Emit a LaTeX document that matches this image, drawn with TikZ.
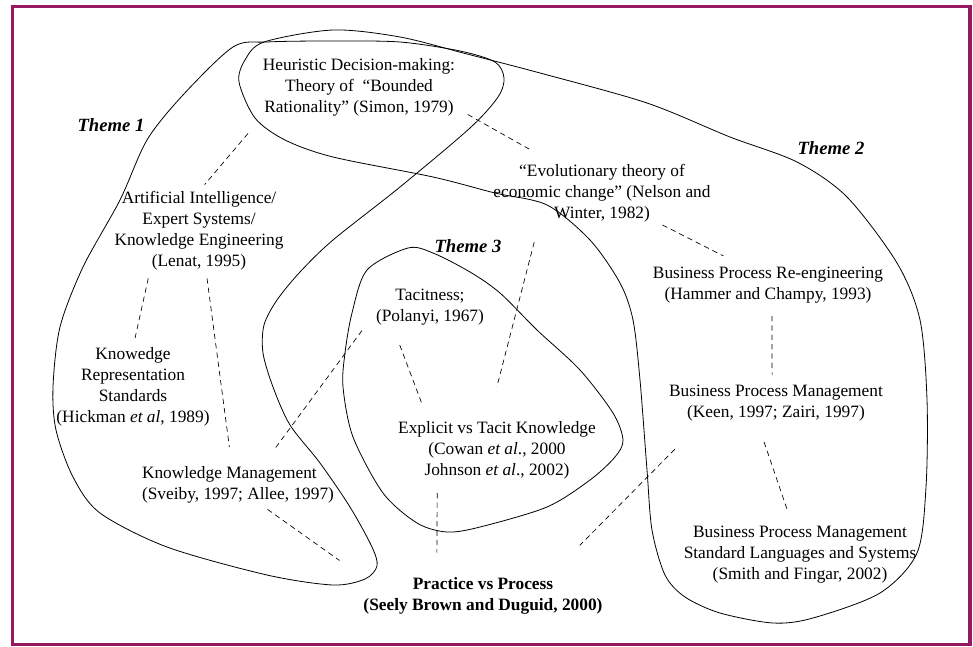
\documentclass[tikz,border=0pt]{standalone}
\usepackage{fontspec}
\setmainfont{Liberation Serif}
\definecolor{framecol}{RGB}{150,25,95}
\tikzset{idea node/.style={align=center, inner sep=0pt, font=\fontsize{13}{15.75}\selectfont},
  theme label/.style={inner sep=0pt, font=\fontsize{14}{16}\selectfont\bfseries\itshape},
  link/.style={draw, line width=0.5pt, dash pattern=on 4pt off 3pt},
  theme line/.style={draw, line width=0.6pt},}

\begin{document}
\begin{tikzpicture}[x=0.75pt, y=-0.75pt]
        \useasboundingbox (0,0) rectangle (973,646);
        \draw[framecol, line width=2.3pt] (12.5,6.5) rectangle (970,644.5);
        % Themes
        \path[theme line] plot[smooth cycle] coordinates {(233,47) (267,42) (330,41) (400,42) (460,51) (495,62) (504,78) (498,97) (470,128) (400,187) (333,240) (300,272) (277,300) (264,325) (263,353) (273,387) (290,425) (320,463) (350,507) (372,547) (377,566) (365,579) (333,585) (267,575) (167,547) (100,513) (73,477) (56,430) (53,387) (60,327) (83,267) (120,200) (147,140) (183,95)};
        \path[theme line] plot[smooth cycle] coordinates {(239,82) (245,60) (264,42) (333,30) (400,37) (467,54) (540,73) (647,103) (730,137) (797,162) (847,197) (897,263) (920,320) (927,400) (926,487) (917,553) (880,593) (813,618) (773,623) (720,613) (685,597) (665,575) (652,530) (647,470) (640,380) (633,320) (620,283) (590,240) (547,205) (495,193) (433,177) (333,157) (285,140) (255,118)};
        \path[theme line] plot[smooth cycle] coordinates {(408,248) (433,253) (470,272) (500,293) (537,330) (580,370) (613,413) (623,440) (615,457) (590,480) (547,507) (480,527) (447,532) (417,523) (383,493) (353,437) (343,387) (345,353) (352,313) (367,270)};
        \node[theme label] (t1) at (111,125) {Theme 1};
        \node[theme label] (t2) at (831,148) {Theme 2};
        \node[theme label] (t3) at (468,246) {Theme 3};
        % Nodes
        \node[idea node] (hd) at (359,87) {Heuristic Decision-making:\\Theory of~ “Bounded\\Rationality” (Simon, 1979)};
        \node[idea node] (ai) at (199,231) {Artificial Intelligence/\\Expert Systems/\\Knowledge Engineering\\(Lenat, 1995)};
        \node[idea node] (ev) at (602,193) {“Evolutionary theory of\\economic change” (Nelson and\\Winter, 1982)};
        \node[idea node] (kr) at (133,387) {Knowedge\\Representation\\Standards\\(Hickman \textit{et al}, 1989)};
        \node[idea node, align=left] (km) at (238,485) {Knowledge Management\\(Sveiby, 1997; Allee, 1997)};
        \node[idea node] (tc) at (430,307) {Tacitness;\\(Polanyi, 1967)};
        \node[idea node] (ex) at (497,450) {Explicit vs Tacit Knowledge\\(Cowan \textit{et al}., 2000\\Johnson \textit{et al}., 2002)};
        \node[idea node] (bpr) at (768,285) {Business Process Re-engineering\\(Hammer and Champy, 1993)};
        \node[idea node] (bpm) at (776,403) {Business Process Management\\(Keen, 1997; Zairi, 1997)};
        \node[idea node] (bps) at (800,555) {Business Process Management\\Standard Languages and Systems\\(Smith and Fingar, 2002)};
        \node[idea node, font=\fontsize{13}{15.75}\selectfont\bfseries] (pp) at (483,596) {Practice vs Process\\(Seely Brown and Duguid, 2000)};
        % Paths
        \path[link]
        (hd.south west) edge [shorten <=17pt, shorten >=6.5pt] (ai.north)
        (hd.-12) edge [shorten <=10.7pt, shorten >=20pt] (ev.148)
        (ev.-28) edge [shorten <=4.6pt, shorten >=17.7pt] (bpr.142)
        (ai.219) edge [shorten <=5.9pt, shorten >=7.2pt] (kr.north)
        (ai.-80) edge [shorten <=5.8pt, shorten >=14.8pt] (km.108)
        (ev.205) edge [shorten <=15.5pt, shorten >=26.3pt] (ex.107)
        (tc.206) edge [shorten <=15.7pt, shorten >=12.8pt] (ex.157)
        (tc.185) edge [shorten <=17.5pt, shorten >=16.5pt] (km.38)
        (km.-41) edge [shorten <=7.4pt, shorten >=21.8pt] (pp.north west)
        (ex.206) edge [shorten <=10.5pt, shorten >=18.5pt] (pp.158)
        (bpm.194) edge [shorten <=29.4pt, shorten >=33.7pt] (pp.16)
        (bpr.-78) edge [shorten <=9.5pt, shorten >=7.2pt] (bpm.102)
        (bpm.224) edge [shorten <=16.3pt, shorten >=13.5pt] (bps.104);
    \end{tikzpicture}
\end{document}
